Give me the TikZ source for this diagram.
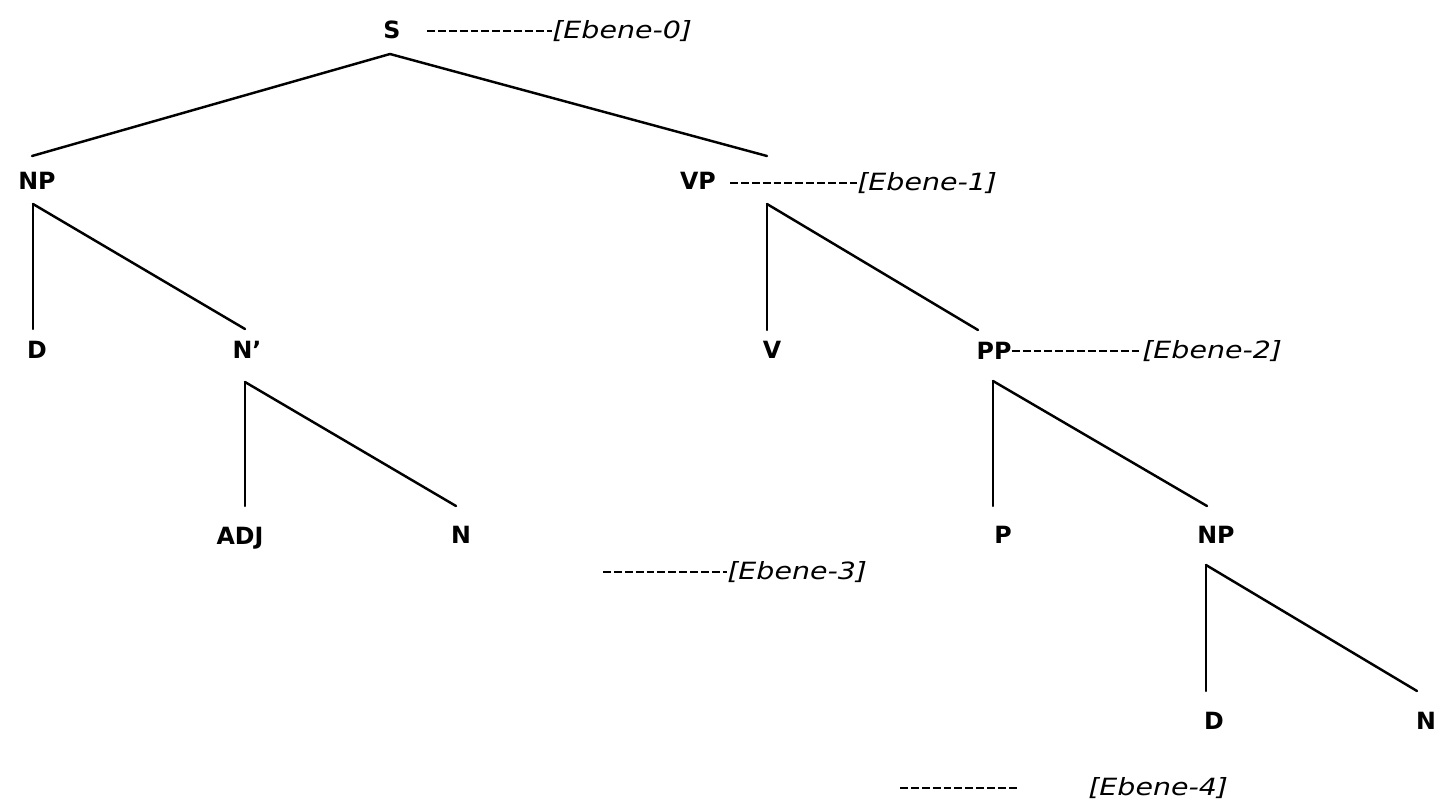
\documentclass[tikz,border=0pt]{standalone}
\usepackage{fontspec}
\setmainfont{DejaVu Sans}
\newfontfamily\ebenefont[FakeStretch=1.2]{DejaVu Sans}
\usetikzlibrary{positioning}
\tikzset{
  cat/.style={inner sep=0pt, font=\fontsize{13.5}{15}\selectfont\bfseries},
  lvl/.style={inner sep=0pt, anchor=west, font=\ebenefont\fontsize{13.5}{16}\selectfont\itshape},
  branch/.style={line width=1.4pt, line cap=round},
  dashline/.style={line width=1pt, dash pattern=on 4.5pt off 1.7pt},
}

\begin{document}
\begin{tikzpicture}[x=0.02cm, y=-0.02cm]
\useasboundingbox (0,0) rectangle (1437,805);
% categories
\node[cat] (S) at (392,30) {S};
\node[cat] (NPa) at (37,181) {NP};
\node[cat] (VP) at (698,181) {VP};
\node[cat] (Da) at (37,350) {D};
\node[cat] (Nbar) at (247,350) {N’};
\node[cat] (V) at (772,350) {V};
\node[cat] (PP) at (994,351) {PP};
\node[cat] (ADJ) at (240,538) {ADJ};
\node[cat] (Na) at (461,535) {N};
\node[cat] (P) at (1003,535) {P};
\node[cat] (NPb) at (1216,535) {NP};
\node[cat] (Db) at (1214,721) {D};
\node[cat] (Nb) at (1426,721) {N};
% joints
\coordinate (S-bot) at (390,54);
\coordinate (NPa-top) at (32,156);
\coordinate (NPa-bot) at (33,204);
\coordinate (VP-top) at (767,156);
\coordinate (VP-bot) at (767,204);
\coordinate (Da-top) at (33,329);
\coordinate (Nbar-top) at (245,329);
\coordinate (Nbar-bot) at (245,382);
\coordinate (V-top) at (767,330);
\coordinate (PP-top) at (978,330);
\coordinate (PP-bot) at (993,381);
\coordinate (ADJ-top) at (245,506);
\coordinate (Na-top) at (456,506);
\coordinate (P-top) at (993,506);
\coordinate (NPb-top) at (1207,506);
\coordinate (NPb-bot) at (1206,565);
\coordinate (Db-top) at (1206,691);
\coordinate (Nb-top) at (1417,691);
% branches
\draw[branch] (S-bot) -- (NPa-top);
\draw[branch] (S-bot) -- (VP-top);
\draw[branch] (NPa-bot) -- (Da-top);
\draw[branch] (NPa-bot) -- (Nbar-top);
\draw[branch] (Nbar-bot) -- (ADJ-top);
\draw[branch] (Nbar-bot) -- (Na-top);
\draw[branch] (VP-bot) -- (V-top);
\draw[branch] (VP-bot) -- (PP-top);
\draw[branch] (PP-bot) -- (P-top);
\draw[branch] (PP-bot) -- (NPb-top);
\draw[branch] (NPb-bot) -- (Db-top);
\draw[branch] (NPb-bot) -- (Nb-top);
% levels
\node[lvl] (L0) at (552,31) {[Ebene-0]};
\node[lvl] (L1) at (857,183) {[Ebene-1]};
\node[lvl] (L2) at (1142,351) {[Ebene-2]};
\node[lvl] (L3) at (727,572) {[Ebene-3]};
\node[lvl] (L4) at (1088,788) {[Ebene-4]};
\coordinate (d0) at (427,31);
\coordinate (d1) at (730,183);
\coordinate (d3) at (603,572);
\coordinate (d4a) at (900,788);
\coordinate (d4b) at (1017,788);
\draw[dashline] (d0) -- (L0.west);
\draw[dashline] (PP.east) -- (L2.west);
\draw[dashline] (d1) -- (L1.west);
\draw[dashline] (d3) -- (L3.west);
\draw[dashline] (d4a) -- (d4b);
\end{tikzpicture}
\end{document}
